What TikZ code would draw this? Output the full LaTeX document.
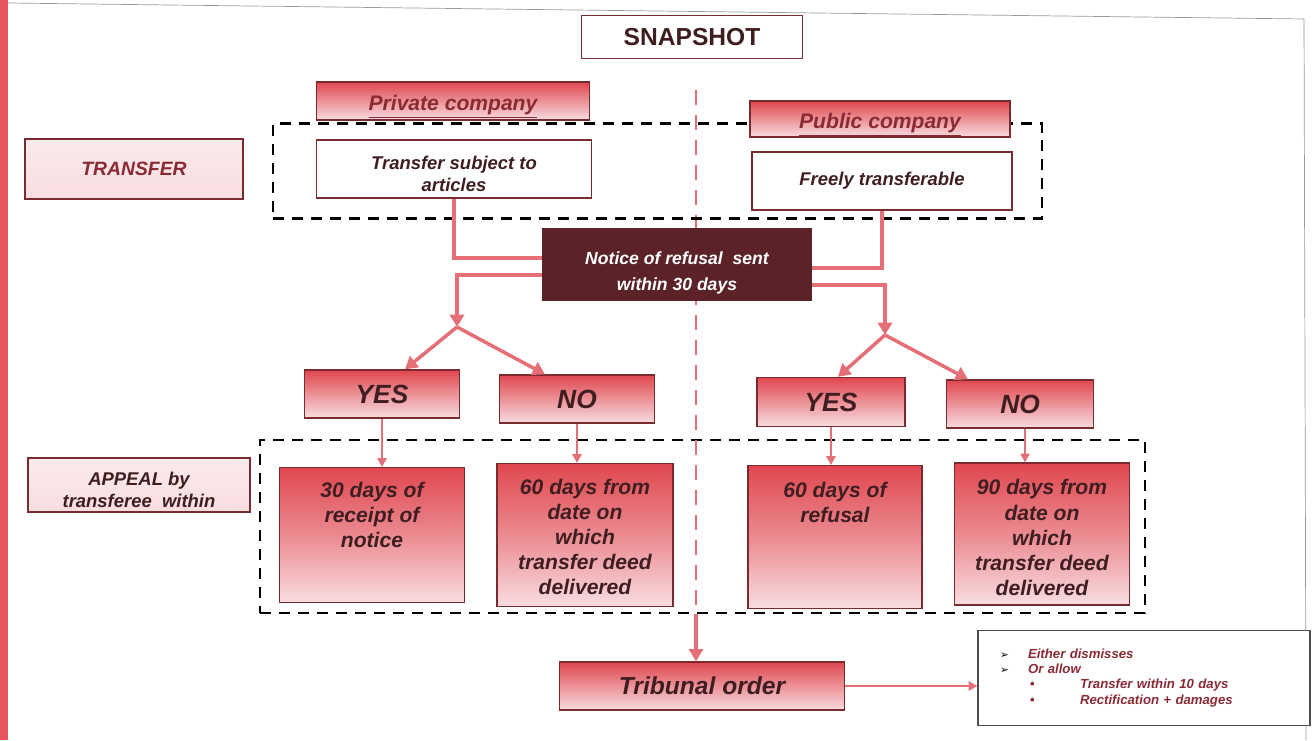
\documentclass[tikz,border=0pt]{standalone}
\usepackage{fontspec}
\setmainfont{Liberation Sans}
\newfontfamily\symbolfont{DejaVu Sans}
\usetikzlibrary{arrows.meta}
\definecolor{stripered}{HTML}{E5555B}
\definecolor{boxred}{HTML}{E0474F}
\definecolor{boxpink}{HTML}{F8DDE0}
\definecolor{boxedge}{HTML}{7A2B30}
\definecolor{inkdark}{HTML}{3F1E21}
\definecolor{inkred}{HTML}{8A2B34}
\definecolor{noticebrown}{HTML}{5B2327}
\definecolor{flowred}{HTML}{E46F77}
\definecolor{framegrey}{HTML}{9A9A9A}
% move the ink of a node text down without moving the node
\newcommand{\lowertext}[2]{\raisebox{-#1}[\height][\depth]{#2}}

\begin{document}
\begin{tikzpicture}
  [x=0.02cm, y=-0.02cm,
   redbox/.style={draw=boxedge, thick, top color=boxred, bottom color=boxpink,
     text=inkdark, font=\bfseries\itshape, align=center, inner sep=0pt},
   daybox/.style={redbox, middle color=boxred!55!boxpink},
   daytext/.style={text=inkdark, align=center, inner sep=0pt,
     font=\fontsize{12}{14.3}\selectfont\bfseries\itshape},
   labelbox/.style={draw=boxedge, thick, top color=boxpink!60!white,
     bottom color=boxpink, text=inkred, font=\fontsize{10.5}{12.5}\selectfont\bfseries\itshape,
     align=center, inner sep=0pt},
   plainbox/.style={draw=boxedge, thick, fill=white, text=inkdark,
     font=\fontsize{10.5}{12.5}\selectfont\bfseries\itshape, align=center, inner sep=0pt},
   groupbox/.style={draw=black, line width=1.6pt, dash pattern=on 0.22cm off 0.16cm},
   flow/.style={draw=flowred, line width=2pt, -{Triangle[width=8pt,length=7pt]}},
   thinflow/.style={draw=flowred, line width=0.7pt, -{Triangle[width=5.5pt,length=5pt]}},
   divider/.style={draw=flowred, line width=1.2pt, dash pattern=on 0.3cm off 0.2cm}]
  \useasboundingbox (0,0) rectangle (1314,740);
  % Slide edge seen in the photo
  \fill[stripered] (0,0) rectangle (8,740);
  \draw[framegrey, thin] (8,3) -- (1304,19) -- (1306,740);

  % Middle line between private and public side
  \coordinate (split) at (696,90);
  \node[redbox, minimum width=5.7cm, minimum height=0.96cm,
    font=\fontsize{14}{16}\selectfont\bfseries\itshape] (trib) at (702,686) {Tribunal order};
  \node[groupbox, minimum width=17.7cm, minimum height=3.46cm] (appealgroup) at (702.5,526.5) {};
  \draw[divider] (split) -- (split |- appealgroup.south);
  \draw[flow] (split |- appealgroup.south) -- (split |- trib.north);

  % Heading
  \node[draw=boxedge, thick, fill=white, minimum width=4.42cm, minimum height=0.86cm,
    font=\fontsize{14}{16}\selectfont\bfseries, text=inkdark] (snap) at (692,37) {SNAPSHOT};

  % Transfer row (frame first, the company boxes sit on it)
  \node[groupbox, minimum width=15.38cm, minimum height=1.9cm] (transfergroup) at (657.5,171) {};

  % Company types
  \node[redbox, minimum width=5.46cm, minimum height=0.76cm, text=inkred,
    font=\fontsize{12}{14}\selectfont\bfseries\itshape] (private) at (453,101)
    {\lowertext{0.11cm}{\underline{Private company}}};
  \node[redbox, minimum width=5.2cm, minimum height=0.72cm, text=inkred,
    font=\fontsize{12}{14}\selectfont\bfseries\itshape] (public) at (880,119)
    {\lowertext{0.11cm}{\underline{Public company}}};

  \node[labelbox, minimum width=4.36cm, minimum height=1.2cm,
    font=\fontsize{11}{13}\selectfont\bfseries\itshape] (transfer) at (134,169) {TRANSFER};
  \node[plainbox, minimum width=5.5cm, minimum height=1.16cm] (subject) at (454,169)
    {\lowertext{0.14cm}{\begin{tabular}{@{}c@{}}Transfer subject to\\articles\end{tabular}}};
  \node[plainbox, minimum width=5.2cm, minimum height=1.16cm] (freely) at (882,181)
    {Freely transferable};

  % Notice of refusal
  \node[draw=noticebrown, fill=noticebrown, text=white, minimum width=5.38cm, minimum height=1.44cm,
    font=\fontsize{10}{14.7}\selectfont\bfseries\itshape, align=center] (notice) at (677,264)
    {\lowertext{0.16cm}{\begin{tabular}{@{}c@{}}Notice of refusal~~sent\\within 30 days\end{tabular}}};

  \draw[flow, -] (subject.south) |- ([yshift=0.12cm]notice.west);
  \draw[flow, -] (freely.south) |- ([yshift=-0.08cm]notice.east);
  \coordinate (forkL) at (457,327);
  \coordinate (forkR) at (885,335);
  \draw[flow] ([yshift=-0.22cm]notice.west) -| (forkL);
  \draw[flow] ([yshift=-0.42cm]notice.east) -| (forkR);

  % Answers
  \node[redbox, minimum width=3.1cm, minimum height=0.96cm,
    font=\fontsize{15}{17}\selectfont\bfseries\itshape] (yesL) at (382,394) {YES};
  \node[redbox, minimum width=3.1cm, minimum height=0.96cm,
    font=\fontsize{15}{17}\selectfont\bfseries\itshape] (noL) at (577,399) {NO};
  \node[redbox, minimum width=2.96cm, minimum height=0.98cm,
    font=\fontsize{15}{17}\selectfont\bfseries\itshape] (yesR) at (831,402) {YES};
  \node[redbox, minimum width=2.94cm, minimum height=0.96cm,
    font=\fontsize{15}{17}\selectfont\bfseries\itshape] (noR) at (1020,404) {NO};

  \draw[flow] (forkL) -- ([xshift=0.46cm]yesL.north);
  \draw[flow] (forkL) -- ([xshift=-0.64cm]noL.north);
  \draw[flow] (forkR) -- ([xshift=0.14cm]yesR.north);
  \draw[flow] (forkR) -- ([xshift=-1.04cm]noR.north);

  % Appeal periods
  \node[labelbox, minimum width=4.44cm, minimum height=1.08cm, text=inkdark] (appeal) at (139,485)
    {\lowertext{0.14cm}{\begin{tabular}{@{}c@{}}APPEAL by\\transferee~~within\end{tabular}}};
  \node[daybox, minimum width=3.7cm, minimum height=2.7cm] (dayL1) at (372,535) {};
  \node[daybox, minimum width=3.52cm, minimum height=2.86cm] (dayL2) at (585,535) {};
  \node[daybox, minimum width=3.48cm, minimum height=2.86cm] (dayR1) at (835,537) {};
  \node[daybox, minimum width=3.5cm, minimum height=2.84cm] (dayR2) at (1042,534) {};
  \node[daytext, below] (textL1) at ([yshift=-0.3cm]dayL1.north)
    {30 days of\\receipt of\\notice};
  \node[daytext, below] (textL2) at ([yshift=-0.32cm]dayL2.north)
    {60 days from\\date on\\which\\transfer deed\\delivered};
  \node[daytext, below] (textR1) at ([yshift=-0.34cm]dayR1.north)
    {60 days of\\refusal};
  \node[daytext, below] (textR2) at ([yshift=-0.34cm]dayR2.north)
    {90 days from\\date on\\which\\transfer deed\\delivered};

  \foreach \ans/\day in {yesL/dayL1, noL/dayL2, yesR/dayR1} {
    \draw[thinflow] (\ans.south) -- (\ans.south |- \day.north);
  }
  \draw[thinflow] ([xshift=0.1cm]noR.south) -- ([xshift=0.1cm]noR.south |- dayR2.north);

  % What the tribunal may do
  \node[draw=black!70, thick, fill=white, minimum width=6.64cm, minimum height=1.9cm,
    text width=5.76cm, inner xsep=0.44cm, align=left, text=inkred,
    font=\fontsize{7.5}{8.6}\selectfont\bfseries\itshape] (verdict) at (1144,678)
    {\makebox[0.56cm][l]{\symbolfont\upshape\fontsize{6}{6}\selectfont\color{black}➢}Either dismisses\\
     \makebox[0.56cm][l]{\symbolfont\upshape\fontsize{6}{6}\selectfont\color{black}➢}Or allow\\
     \hspace*{0.6cm}\makebox[1cm][l]{\upshape•}Transfer within 10 days\\
     \hspace*{0.6cm}\makebox[1cm][l]{\upshape•}Rectification + damages};
  \draw[thinflow] (trib.east) -- (verdict.west |- trib.east);
\end{tikzpicture}
\end{document}
